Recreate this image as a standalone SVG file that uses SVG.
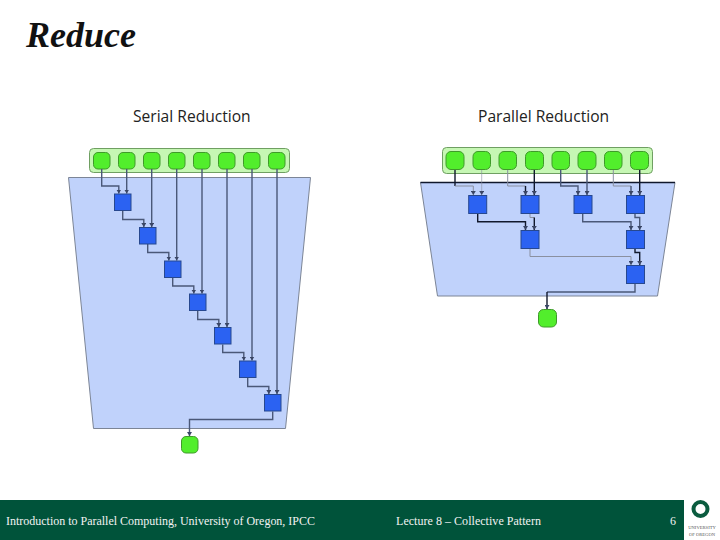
<svg xmlns="http://www.w3.org/2000/svg" width="720" height="540" viewBox="0 0 720 540">
<style>
.tray{fill:#c6f7b4;stroke:#6f9f62;stroke-width:1}
.g{fill:#52ee2c;stroke:#3f9a2a;stroke-width:1}
.b{fill:#2b62f2;stroke:#27488f;stroke-width:1}
.trap{fill:#c0d2fb;stroke:#7c8596;stroke-width:1}
.w{fill:none;stroke:#4a5878;stroke-width:1.4}
.k{fill:none;stroke:#10182c;stroke-width:1.4}
.l{fill:none;stroke:#8a90a0;stroke-width:1}
.h{font-family:"Open Sans","Noto Sans",sans-serif;font-size:15.6px;fill:#222}
.f{font-family:"Liberation Serif",serif;font-size:12px;fill:#f2f2f2}
.u{font-family:"Liberation Serif",serif;font-size:4.6px;fill:#555;text-anchor:middle}
</style>
<defs>
<marker id="a" markerUnits="userSpaceOnUse" markerWidth="5" markerHeight="5" refX="4" refY="2.5" orient="auto"><path d="M0 0L4 2.5L0 5z" fill="#3a4666"/></marker>
</defs>
<rect width="720" height="540" fill="#fff"/>
<text x="26" y="47" font-family="Liberation Serif,serif" font-size="36" font-weight="700" font-style="italic" fill="#111">Reduce</text>
<text class="h" x="133" y="121.5">Serial Reduction</text>
<text class="h" x="478" y="121.5">Parallel Reduction</text>

<g id="serial-tray"><rect class="tray" x="89.5" y="148.5" width="200" height="24" rx="4"/></g>
<g id="serial-region"><path class="trap" d="M68.5 177.5H310.5L285.5 428.5H93.5z"/></g>
<g id="serial-inputs">
<rect class="g" x="93.5" y="152.5" width="16.5" height="16.5" rx="4.5"/>
<rect class="g" x="118.5" y="152.5" width="16.5" height="16.5" rx="4.5"/>
<rect class="g" x="143.5" y="152.5" width="16.5" height="16.5" rx="4.5"/>
<rect class="g" x="168.5" y="152.5" width="16.5" height="16.5" rx="4.5"/>
<rect class="g" x="193.5" y="152.5" width="16.5" height="16.5" rx="4.5"/>
<rect class="g" x="218.5" y="152.5" width="16.5" height="16.5" rx="4.5"/>
<rect class="g" x="243.5" y="152.5" width="16.5" height="16.5" rx="4.5"/>
<rect class="g" x="268.5" y="152.5" width="16.5" height="16.5" rx="4.5"/>
</g>
<g id="serial-connectors">
<path class="w" marker-end="url(#a)" d="M101.7 169V186H118.8V193.5"/>
<path class="w" marker-end="url(#a)" d="M126.7 169V193.5"/>
<path class="w" marker-end="url(#a)" d="M151.7 169V227"/>
<path class="w" marker-end="url(#a)" d="M176.7 169V260.5"/>
<path class="w" marker-end="url(#a)" d="M202 169V293.5"/>
<path class="w" marker-end="url(#a)" d="M227 169V327"/>
<path class="w" marker-end="url(#a)" d="M252 169V360.5"/>
<path class="w" marker-end="url(#a)" d="M277 169V394"/>
<path class="w" marker-end="url(#a)" d="M122.7 211V219.5H143.8V227"/>
<path class="w" marker-end="url(#a)" d="M147.7 244V252.5H168.8V260.5"/>
<path class="w" marker-end="url(#a)" d="M172.7 278V286H193.8V293.5"/>
<path class="w" marker-end="url(#a)" d="M197.7 311V319.5H218.8V327"/>
<path class="w" marker-end="url(#a)" d="M222.7 344.5V352.5H243.8V360.5"/>
<path class="w" marker-end="url(#a)" d="M247.7 378V386.5H268.8V394"/>
<path class="w" marker-end="url(#a)" d="M272.7 411.5V419.5H189.5V436"/>
</g>
<g id="serial-ops">
<rect class="b" x="114.5" y="194" width="16.5" height="16.5"/>
<rect class="b" x="139.5" y="227.5" width="16.5" height="16.5"/>
<rect class="b" x="164.5" y="261" width="16.5" height="16.5"/>
<rect class="b" x="189.5" y="294" width="16.5" height="16.5"/>
<rect class="b" x="214.5" y="327.5" width="16.5" height="16.5"/>
<rect class="b" x="239.5" y="361" width="16.5" height="16.5"/>
<rect class="b" x="264.5" y="394.5" width="16.5" height="16.5"/>
</g>
<g id="serial-output"><rect class="g" x="181.5" y="436.5" width="16.5" height="16.5" rx="4.5"/></g>

<g id="parallel-tray"><rect class="tray" x="442.5" y="147.5" width="210" height="26" rx="4"/></g>
<g id="parallel-region"><path class="trap" d="M420.5 182.5H675L657.5 296H437.5z"/><path d="M420.5 182.5H675" fill="none" stroke="#10182c" stroke-width="1.3"/></g>
<g id="parallel-inputs">
<rect class="g" x="446" y="151.5" width="18" height="18" rx="5"/>
<rect class="g" x="473" y="151.5" width="17.5" height="18" rx="5"/>
<rect class="g" x="499" y="151.5" width="17.5" height="18" rx="5"/>
<rect class="g" x="525.5" y="151.5" width="18" height="18" rx="5"/>
<rect class="g" x="552" y="151.5" width="17.5" height="18" rx="5"/>
<rect class="g" x="578" y="151.5" width="18" height="18" rx="5"/>
<rect class="g" x="604.5" y="151.5" width="17.5" height="18" rx="5"/>
<rect class="g" x="630.5" y="151.5" width="18" height="18" rx="5"/>
</g>
<g id="parallel-connectors">
<path class="k" d="M455 170V186"/>
<path class="l" marker-end="url(#a)" d="M455 186H473.3V195"/>
<path class="l" stroke-opacity=".6" marker-end="url(#a)" d="M481.7 170V195"/>
<path class="l" d="M507.7 170V186H525.5"/>
<path class="k" marker-end="url(#a)" d="M525.5 186V195"/>
<path class="k" marker-end="url(#a)" d="M534.3 170V195"/>
<path class="w" stroke-width="1.1" marker-end="url(#a)" d="M560.7 170V186H578V195"/>
<path class="w" stroke-width="2.4" marker-end="url(#a)" d="M587 170V195"/>
<path class="l" d="M613.3 170V186H631"/>
<path class="w" stroke-width="1.1" marker-end="url(#a)" d="M631 186V195"/>
<path class="k" marker-end="url(#a)" d="M639.7 170V195"/>
<path class="k" marker-end="url(#a)" d="M477.7 213.5V221.7H525.5V230"/>
<path class="l" d="M530 213.5V217.5H534.3"/>
<path class="k" marker-end="url(#a)" d="M534.3 217.5V230"/>
<path class="w" marker-end="url(#a)" d="M582.7 213.5V221.7H631V230"/>
<path class="w" marker-end="url(#a)" d="M635 213.5V217.5H639.7V230"/>
<path class="l" marker-end="url(#a)" d="M530 248.5V256.5H631V265"/>
<path class="k" marker-end="url(#a)" d="M635 248.5V252.5H639.7V265"/>
<path class="w" d="M635 283.5V292H547"/>
<path class="k" marker-end="url(#a)" d="M547 292V309"/>
</g>
<g id="parallel-ops">
<rect class="b" x="468.7" y="195.5" width="18" height="18"/>
<rect class="b" x="521" y="195.5" width="18" height="18"/>
<rect class="b" x="574" y="195.5" width="18" height="18"/>
<rect class="b" x="626.5" y="195.5" width="18" height="18"/>
<rect class="b" x="521" y="230.5" width="18" height="18"/>
<rect class="b" x="626.5" y="230.5" width="18" height="18"/>
<rect class="b" x="626.5" y="265.5" width="18" height="18"/>
</g>
<g id="parallel-output"><rect class="g" x="538.5" y="309.5" width="18" height="17.5" rx="5"/></g>

<g id="footer">
<rect x="0" y="500" width="684" height="40" fill="#00533a"/>
<text class="f" x="6" y="524.5" textLength="309" lengthAdjust="spacing">Introduction to Parallel Computing, University of Oregon, IPCC</text>
<text class="f" x="396" y="524.5" textLength="145" lengthAdjust="spacing">Lecture 8 – Collective Pattern</text>
<text class="f" x="670" y="525" font-size="13">6</text>
</g>
<g id="logo">
<ellipse cx="700.5" cy="509" rx="7" ry="7" fill="none" stroke="#0b5c3f" stroke-width="4"/>
<text class="u" x="702" y="529">UNIVERSITY</text>
<text class="u" x="702" y="536">OF OREGON</text>
</g>
</svg>
